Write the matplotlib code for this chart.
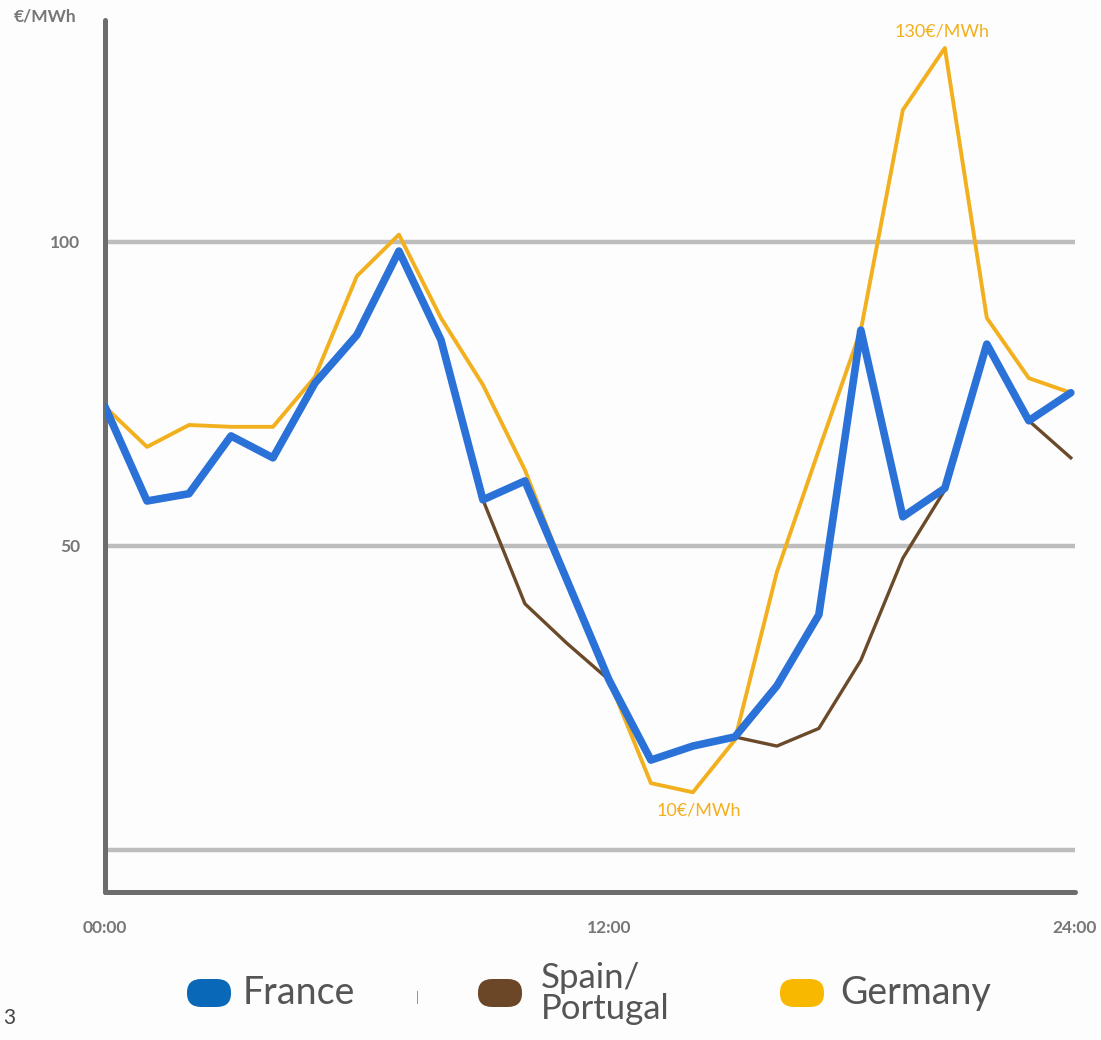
import matplotlib
matplotlib.use("Agg")
import matplotlib.pyplot as plt
from matplotlib.patches import FancyBboxPatch

hours = list(range(24))
france = [72.9, 57.4, 58.6, 68.1, 64.5, 76.8, 84.7, 98.5, 83.9, 57.6, 60.7, 44.4,
          28.0, 14.8, 17.1, 18.6, 27.0, 38.7, 85.5, 54.8, 59.5, 83.2, 70.6, 75.2]
spain = [72.9, 57.4, 58.6, 68.1, 64.5, 76.8, 84.7, 98.5, 83.9, 57.6, 40.5, 34.0,
         28.0, 14.8, 17.1, 18.6, 17.1, 20.0, 31.2, 48.0, 59.2, 83.2, 70.6, 64.5]
germany = [72.9, 66.3, 69.9, 69.6, 69.6, 77.8, 94.4, 101.2, 87.5, 76.5, 62.5, 44.7,
           28.0, 11.0, 9.5, 18.1, 45.7, 65.8, 85.5, 121.7, 131.9, 87.5, 77.6, 75.2]
series_names = ["France", "Spain/\nPortugal", "Germany"]
yticks = [50, 100]
gridlines = [0, 50, 100]
xtick_pos = [0, 12, 23.1]
xtick_labels = ["00:00", "12:00", "24:00"]

FONT = ["Lato", "DejaVu Sans"]
c_fr, c_es, c_de = "#2a72d8", "#6b4a2a", "#f2b01e"

fig = plt.figure(figsize=(11.01, 10.40), dpi=100)
fig.patch.set_facecolor("#fdfdfd")
ax = fig.add_axes([105/1101, 148/1040, 970/1101, 872/1040])
ax.set_facecolor("#fdfdfd")

for g in gridlines:
    ax.axhline(g, color="#bdbdbd", lw=3.2, zorder=1)

ax.plot(hours, germany, color=c_de, lw=2.8, zorder=2, solid_joinstyle="round")
ax.plot(hours, spain, color=c_es, lw=2.4, zorder=3, solid_joinstyle="round")
ax.plot(hours, france, color=c_fr, lw=5.5, zorder=4, solid_joinstyle="round",
        solid_capstyle="round")

ax.set_xlim(0, 23.1)
ax.set_ylim(-6.9, 136.5)

for s in ["top", "right"]:
    ax.spines[s].set_visible(False)
for s in ["left", "bottom"]:
    ax.spines[s].set_color("#6d6d6d")
    ax.spines[s].set_linewidth(3.6)
    ax.spines[s].set_capstyle("round")

ax.set_yticks(yticks)
ax.set_yticklabels([str(v) for v in yticks], family=FONT, fontsize=12.5,
                   color="#777777", fontweight="bold")
ax.set_xticks(xtick_pos)
ax.set_xticklabels(xtick_labels, family=FONT, fontsize=12.5, color="#777777",
                   fontweight="bold")
ax.tick_params(length=0, pad=18, axis="y")
ax.tick_params(length=0, pad=20, axis="x")

fig.text(45/1101, 1 - 17/1040, "€/MWh", family=FONT, fontsize=12.5, color="#777777",
         fontweight="bold", ha="center", va="center")

ax.annotate("130€/MWh", xy=(20, 131.9), xytext=(-2, 12), textcoords="offset points",
            ha="center", va="center", color=c_de, family=FONT, fontsize=13)
ax.annotate("10€/MWh", xy=(14, 9.5), xytext=(4, -13), textcoords="offset points",
            ha="center", va="center", color=c_de, family=FONT, fontsize=13)

# legend
leg_colors = ["#0a68b8", "#6b4627", "#f9b800"]
pill_x = [187, 478, 780]
text_x = [243, 541, 840]
for name, col, px, tx in zip(series_names, leg_colors, pill_x, text_x):
    fig.patches.append(FancyBboxPatch((px/1101, 1 - 1007/1040), 44/1101, 28/1040,
                                      boxstyle="round,pad=0,rounding_size=0.013",
                                      transform=fig.transFigure, facecolor=col,
                                      edgecolor="none"))
    if "\n" not in name:
        fig.text(tx/1101, 1 - 993/1040, name, family=FONT, fontsize=27,
                 color="#555555", ha="left", va="center")
    else:
        fig.text(tx/1101, 1 - 962/1040, name, family=FONT, fontsize=25,
                 color="#555555", ha="left", va="top", linespacing=0.95)

fig.text(417/1101, 1 - 997/1040, "|", family=FONT, fontsize=9, color="#888888",
         ha="center", va="center")
fig.text(3/1101, 1 - 1018/1040, "3", family=FONT, fontsize=15, color="#444444",
         ha="left", va="center")

fig.savefig("out.png", dpi=100, facecolor=fig.get_facecolor())
